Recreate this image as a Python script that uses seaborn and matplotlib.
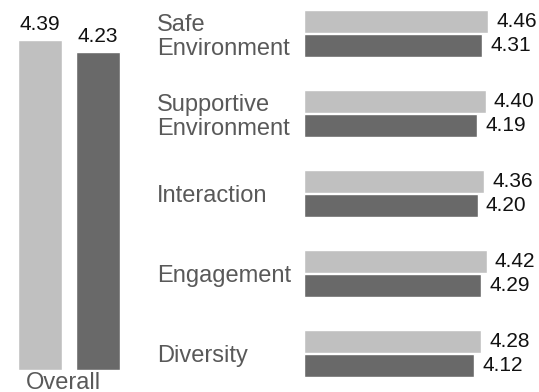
import matplotlib
matplotlib.use("Agg")
import matplotlib.pyplot as plt
import seaborn as sns
import pandas as pd

# ---- data ----
series = ["Series A", "Series B"]
overall_values = [4.39, 4.23]
categories = ["Safe\nEnvironment", "Supportive\nEnvironment", "Interaction",
              "Engagement", "Diversity"]
values_a = [4.46, 4.40, 4.36, 4.42, 4.28]
values_b = [4.31, 4.19, 4.20, 4.29, 4.12]
colors = ["#c0c0c0", "#696969"]

sns.set_theme(style="white")
plt.rcParams["font.family"] = ["Liberation Sans", "DejaVu Sans"]

W, H = 539, 392
fig = plt.figure(figsize=(W / 100, H / 100), dpi=100)

# ---- left panel: overall ----
df_o = pd.DataFrame({"group": ["Overall"] * 2, "series": series, "value": overall_values})
U = 128.9
ax1 = fig.add_axes([(69 - U / 2) / W, 22 / H, U / W, 370 / H])
sns.barplot(data=df_o, x="group", y="value", hue="series", palette=colors,
            width=0.9, gap=0.2414, legend=False, ax=ax1, saturation=1)
ax1.set_xlim(-0.5, 0.5)
ax1.set_ylim(0, 370 / 75.2)
for c in ax1.containers:
    ax1.bar_label(c, fmt="%.2f", padding=4, fontsize=15, color="#111111")
ax1.set_xticks([-0.041], ["Overall"])
ax1.tick_params(axis="x", length=0, pad=1.5, labelsize=17, labelcolor="#595959")
ax1.set_yticks([])
ax1.set_xlabel("")
ax1.set_ylabel("")
for s in ax1.spines.values():
    s.set_visible(False)
ax1.patch.set_alpha(0)

# ---- right panel: categories ----
df_c = pd.DataFrame({
    "category": categories * 2,
    "series": [series[0]] * len(categories) + [series[1]] * len(categories),
    "value": values_a + values_b,
})
left_px = 304
ax2 = fig.add_axes([left_px / W, 0, (W - left_px) / W, 1])
sns.barplot(data=df_c, y="category", x="value", hue="series", palette=colors,
            orient="h", width=0.6, gap=0.042, legend=False, ax=ax2, saturation=1)
ax2.set_xlim(0, (W - left_px) / 41.35)
ax2.set_ylim((392 - 33.5) / 80, -33.5 / 80)
for c in ax2.containers:
    ax2.bar_label(c, fmt="%.2f", padding=5.8, fontsize=15, color="#111111")
ax2.set_yticks(range(len(categories)), categories)
ax2.tick_params(axis="y", length=0, pad=(left_px - 157) * 0.72, labelsize=17,
                labelcolor="#595959")
for lab in ax2.get_yticklabels():
    lab.set_horizontalalignment("left")
    lab.set_linespacing(1.1)
ax2.set_xticks([])
ax2.set_xlabel("")
ax2.set_ylabel("")
for s in ax2.spines.values():
    s.set_visible(False)
ax2.patch.set_alpha(0)

fig.savefig("out.png", dpi=100)
